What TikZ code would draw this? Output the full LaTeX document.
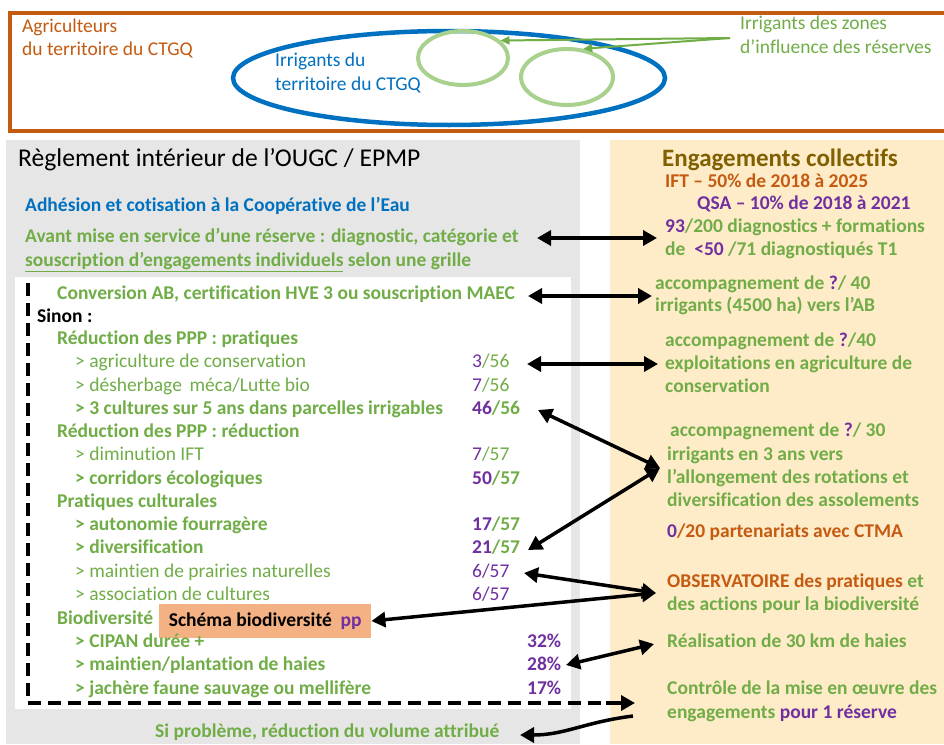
\documentclass[tikz,border=0pt]{standalone}
\usepackage{fontspec}
\setmainfont{Carlito}[Ligatures=NoCommon]
\usetikzlibrary{arrows.meta,shapes.geometric}
\definecolor{org}{HTML}{C55A11}
\definecolor{blu}{HTML}{0070C0}
\definecolor{grn}{HTML}{70AD47}
\definecolor{lgrn}{HTML}{A9D18E}
\definecolor{pur}{HTML}{7030A0}
\definecolor{olv}{HTML}{806000}
\definecolor{gry}{HTML}{E7E6E6}
\definecolor{yel}{HTML}{FEEBC8}
\definecolor{sal}{HTML}{F4B183}
\newcommand{\pu}[1]{{\color{pur}#1}}
\newcommand{\og}[1]{{\color{org}#1}}
\begin{document}
\begin{tikzpicture}[x=1pt,y=-1pt,
  t/.style={anchor=west,inner sep=0pt,text height=13.5pt,text depth=4pt,font=\fontsize{19.5}{22}\selectfont\bfseries,text=grn},
  tl/.style={t,font=\fontsize{19.5}{22}\selectfont},
  tt/.style={t,font=\fontsize{19.5}{22}\selectfont},
  big/.style={anchor=west,inner sep=0pt,text height=19pt,text depth=6pt},
  arr/.style={line width=3.5pt,{Triangle[length=14pt,width=15pt]}-{Triangle[length=14pt,width=15pt]}},
  arrone/.style={line width=3.5pt,-{Triangle[length=14pt,width=15pt]}},
  garr/.style={draw=grn,line width=2pt,-{Triangle[length=9pt,width=8pt]}},
  dashpat/.style={line width=4.5pt,dash pattern=on 13pt off 7pt}]
\useasboundingbox (0,0) rectangle (944,744);
% backgrounds
\fill[white] (0,0) rectangle (944,744);
\fill[gry] (6,140) rectangle (580,744);
\fill[yel] (610,140) rectangle (944,744);
\fill[white] (15,277) rectangle (571,709);
% top frame
\draw[org,line width=4pt] (10,13) rectangle (960,131);
\node[draw=blu,line width=4.5pt,ellipse,minimum width=432pt,minimum height=94pt,inner sep=0pt] (terr) at (449,78) {};
\node[draw=lgrn,line width=4pt,ellipse,minimum width=90pt,minimum height=54pt,inner sep=0pt] (c1) at (463,58) {};
\node[draw=lgrn,line width=4pt,ellipse,minimum width=92pt,minimum height=56pt,inner sep=0pt] (c2) at (567,77) {};
\node[tt,text=org] (agri1) at (22,28) {Agriculteurs};
\node[tt,text=org] (agri2) at (22,51) {du territoire du CTGQ};
\node[tt,text=blu] (irr1) at (275,62) {Irrigants du};
\node[tt,text=blu] (irr2) at (275,86) {territoire du CTGQ};
\node[tt] (zon1) at (740,25) {Irrigants des zones};
\node[tt] (zon2) at (740,49) {d’influence des réserves};
\coordinate (gsrc) at (730,38);
\draw[garr] (gsrc) -- (c1.25);
\draw[garr] (gsrc) -- (c2.60);
% left panel
\node[big,font=\fontsize{25.6}{30}\selectfont] (title) at (18,160) {Règlement intérieur de l’OUGC / EPMP};
\node[t,text=blu] (adh) at (25,207) {Adhésion et cotisation à la Coopérative de l’Eau};
\node[t] (av1) at (25,238) {Avant mise en service d’une réserve : diagnostic, catégorie et};
\node[t] (av2) at (25,262) {\underline{souscription d’engagements individuels} selon une grille};
\node[t] (conv) at (57,295) {Conversion AB, certification HVE 3 ou souscription MAEC};
\node[t,text=black] (sinon) at (37,318) {Sinon :};
\node[t] (red1) at (57,340) {Réduction des PPP : pratiques};
\node[tl] (r1a) at (75,363) {> agriculture de conservation};
\node[tl] (f1a) at (472,363) {\pu{3}/56};
\node[tl] (r1b) at (75,387) {> désherbage\, méca/Lutte bio};
\node[tl] (f1b) at (472,387) {\pu{7}/56};
\node[t] (r1c) at (75,410) {> 3 cultures sur 5 ans dans parcelles irrigables};
\node[t] (f1c) at (472,410) {\pu{46}/56};
\node[t] (red2) at (57,433) {Réduction des PPP : réduction};
\node[tl] (r2a) at (75,456) {> diminution IFT};
\node[tl] (f2a) at (472,456) {\pu{7}/57};
\node[t] (r2b) at (75,480) {> corridors écologiques};
\node[t] (f2b) at (472,480) {\pu{50}/57};
\node[t] (prat) at (57,503) {Pratiques culturales};
\node[t] (p1) at (75,526) {> autonomie fourragère};
\node[t] (fp1) at (472,526) {\pu{17}/57};
\node[t] (p2) at (75,549) {> diversification};
\node[t] (fp2) at (472,549) {\pu{21}/57};
\node[tl] (p3) at (75,573) {> maintien de prairies naturelles};
\node[tl] (fp3) at (472,573) {\pu{6/57}};
\node[tl] (p4) at (75,596) {> association de cultures};
\node[tl] (fp4) at (472,596) {\pu{6/57}};
\node[t] (bio) at (57,620) {Biodiversité};
\node[fill=sal,anchor=west,minimum width=212pt,minimum height=34pt,inner sep=0pt,text=black,font=\fontsize{19.5}{22}\selectfont\bfseries] (schema) at (159,621) {Schéma biodiversité\ \ \pu{pp}};
\node[t] (b1) at (75,643) {> CIPAN durée +};
\node[t,text=pur] (pb1) at (527,643) {32\%};
\node[t] (b2) at (75,666) {> maintien/plantation de haies};
\node[t,text=pur] (pb2) at (527,666) {28\%};
\node[t] (b3) at (75,690) {> jachère faune sauvage ou mellifère};
\node[t,text=pur] (pb3) at (527,690) {17\%};
\node[t] (si) at (155,733) {Si problème, réduction du volume attribué};
% right panel
\node[big,font=\fontsize{25}{29}\selectfont\bfseries,text=olv] (eng) at (662,160) {Engagements collectifs};
\node[t,text=org] (ift) at (665,183) {IFT – 50\% de 2018 à 2025};
\node[t,text=pur] (qsa) at (697,205) {QSA – 10\% de 2018 à 2021};
\node[t] (d93) at (665,228) {\pu{93}/200 diagnostics + formations};
\node[t] (d50) at (665,251) {de\ \ \pu{<50} /71 diagnostiqués T1};
\node[t] (a40a) at (655,285) {accompagnement de \pu{?}/ 40};
\node[t] (a40b) at (655,307) {irrigants (4500 ha) vers l’AB};
\node[t] (ac1) at (665,342) {accompagnement de \pu{?}/40};
\node[t] (ac2) at (665,365) {exploitations en agriculture de};
\node[t] (ac3) at (665,388) {conservation};
\node[t] (a30a) at (670,432) {accompagnement de \pu{?}/ 30};
\node[t] (a30b) at (667,456) {irrigants en 3 ans vers};
\node[t] (a30c) at (667,479) {l'allongement des rotations et};
\node[t] (a30d) at (667,502) {diversification des assolements};
\node[t] (ctma) at (667,533) {\pu{0}\og{/20 partenariats avec CTMA}};
\node[t] (obs1) at (667,583) {\og{OBSERVATOIRE des pratiques} et};
\node[t] (obs2) at (667,606) {des actions pour la biodiversité};
\node[t] (haie) at (667,643) {Réalisation de 30 km de haies};
\node[t] (ctl1) at (667,690) {Contrôle de la mise en œuvre des};
\node[t] (ctl2) at (667,714) {engagements \pu{pour 1 réserve}};
% arrows
\coordinate (e1l) at (537,238); \coordinate (e1r) at (657,238);
\coordinate (e2l) at (528,296); \coordinate (e2r) at (652,296);
\coordinate (e3l) at (527,364); \coordinate (e3r) at (658,364);
\coordinate (apex) at (660,468);
\coordinate (e4l) at (538,410);
\coordinate (e5l) at (528,550);
\coordinate (e6l) at (524,573); \coordinate (obsp) at (656,593);
\coordinate (e8l) at (566,665); \coordinate (e8r) at (654,644);
\draw[arr] (e1l) -- (e1r);
\draw[arr] (e2l) -- (e2r);
\draw[arr] (e3l) -- (e3r);
\draw[arr] (e4l) -- (apex);
\draw[arr] (e5l) -- (apex);
\draw[arr] (e6l) -- (obsp);
\draw[arr] (schema.east) -- (obsp);
\draw[arr] (e8l) -- (e8r);
% dashed loop
\coordinate (dtop) at (28,283);
\coordinate (dcor) at (28,703);
\coordinate (dend) at (612,703);
\coordinate (dtip) at (635,703);
\draw[dashpat] (dtop) -- (dcor) -- (dend);
\draw[arrone] (606,703) -- (dtip);
\coordinate (cst) at (633,716);
\coordinate (sitip) at (520,735);
\draw[arrone] (cst) .. controls (585,722) and (565,735) .. (sitip);
\end{tikzpicture}
\end{document}
